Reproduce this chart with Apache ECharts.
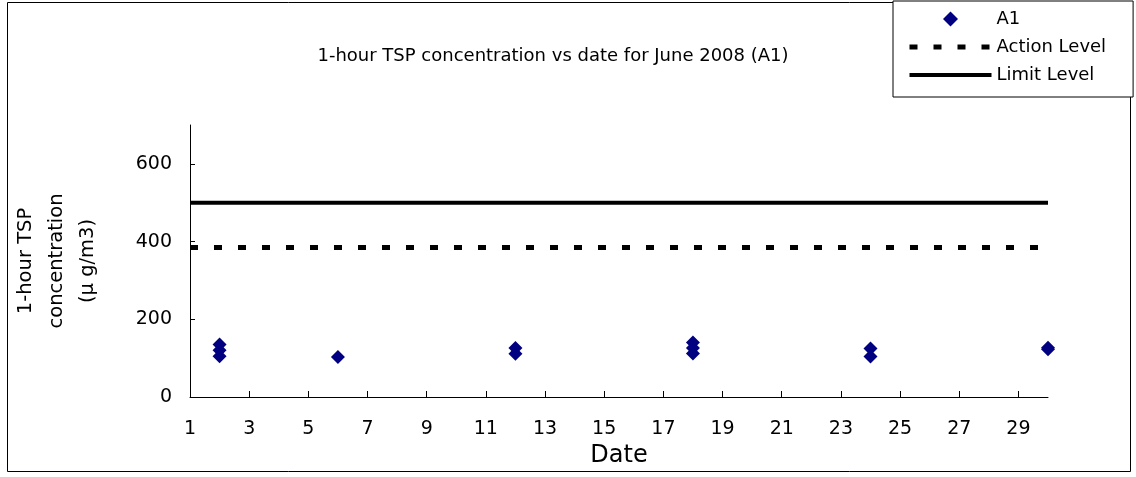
<!DOCTYPE html>
<html><head><meta charset="utf-8">
<script src="https://cdn.jsdelivr.net/npm/echarts@6/dist/echarts.min.js"></script>
<style>html,body{margin:0;padding:0;background:#fff}#c{width:1136px;height:477px}</style>
</head><body><div id="c"></div>
<script>
const titleText = '1-hour TSP concentration vs date for June 2008 (A1)';
const seriesNames = ['A1', 'Action Level', 'Limit Level'];
const days = [2, 2, 2, 6, 12, 12, 18, 18, 18, 24, 24, 30, 30];
const tsp = [135, 120, 105, 103, 126, 111, 140, 126, 112, 125, 104, 127, 123];
const actionLevel = 385;
const limitLevel = 500;
const levelSpan = [1, 30];
const xTicks = [1, 3, 5, 7, 9, 11, 13, 15, 17, 19, 21, 23, 25, 27, 29];
const yTicks = [0, 200, 400, 600];
const xName = 'Date';
const yName = '1-hour TSP\nconcentration\n(\u03bc g/m3)';

const FONT = 'DejaVu Sans';
const DIAMOND = 'path://M0,-1L1,0L0,1L-1,0Z';
const chart = echarts.init(document.getElementById('c'), null, {renderer: 'canvas'});
chart.setOption({
  animation: false,
  backgroundColor: '#fff',
  textStyle: {fontFamily: FONT, color: '#000'},
  graphic: [{
    type: 'rect', z: 0, silent: true,
    shape: {x: 7.5, y: 2.5, width: 1123, height: 469},
    style: {fill: 'none', stroke: '#000', lineWidth: 1}
  }],
  title: {
    text: titleText, left: 548, top: 42, textAlign: 'center',
    textStyle: {fontFamily: FONT, fontSize: 18, fontWeight: 'normal', color: '#000'}
  },
  legend: {
    orient: 'vertical', left: 893, top: 1, z: 10,
    backgroundColor: '#fff', borderColor: '#000', borderWidth: 1,
    padding: [8, 27, 12, 14], itemGap: 8, itemWidth: 82, itemHeight: 15,
    symbolKeepAspect: true,
    lineStyle: {width: 'inherit'},
    textStyle: {fontFamily: FONT, fontSize: 18, color: '#000', lineHeight: 20},
    data: [
      {name: seriesNames[0], icon: DIAMOND},
      {name: seriesNames[1], itemStyle: {opacity: 0}},
      {name: seriesNames[2], itemStyle: {opacity: 0}}
    ]
  },
  grid: {left: 190, right: 88, top: 125, bottom: 80, outerBoundsMode: 'none', containLabel: false},
  xAxis: {
    type: 'value', min: levelSpan[0], max: levelSpan[1], interval: 2,
    name: xName, nameLocation: 'middle', nameGap: 39,
    nameTextStyle: {fontFamily: FONT, fontSize: 24, color: '#000'},
    axisLine: {lineStyle: {color: '#000', width: 1}},
    axisTick: {inside: true, length: 6, lineStyle: {color: '#000'}, customValues: xTicks},
    axisLabel: {fontFamily: FONT, fontSize: 19, color: '#000', margin: 23, customValues: xTicks},
    splitLine: {show: false}
  },
  yAxis: {
    type: 'value', min: 0, max: 700, interval: 100,
    name: yName, nameLocation: 'middle', nameRotate: 90, nameGap: 87,
    nameTextStyle: {fontFamily: FONT, fontSize: 19.5, color: '#000', lineHeight: 31, align: 'center'},
    axisLine: {show: true, lineStyle: {color: '#000', width: 1}},
    axisTick: {show: true, inside: true, length: 5, lineStyle: {color: '#000'}, customValues: yTicks},
    axisLabel: {fontFamily: FONT, fontSize: 19, color: '#000', margin: 18, customValues: yTicks},
    splitLine: {show: false}
  },
  series: [
    {
      name: seriesNames[0], type: 'scatter', symbol: 'diamond', symbolSize: 14,
      itemStyle: {color: '#000080', opacity: 1}, z: 5,
      data: days.map((d, i) => [d, tsp[i]])
    },
    {
      name: seriesNames[1], type: 'line', symbol: 'none', z: 3,
      lineStyle: {color: '#000', width: 5, type: [8, 16]},
      itemStyle: {color: '#000'},
      data: levelSpan.map(d => [d, actionLevel])
    },
    {
      name: seriesNames[2], type: 'line', symbol: 'none', z: 3,
      lineStyle: {color: '#000', width: 4, type: 'solid'},
      itemStyle: {color: '#000'},
      data: levelSpan.map(d => [d, limitLevel])
    }
  ]
});
</script></body></html>
